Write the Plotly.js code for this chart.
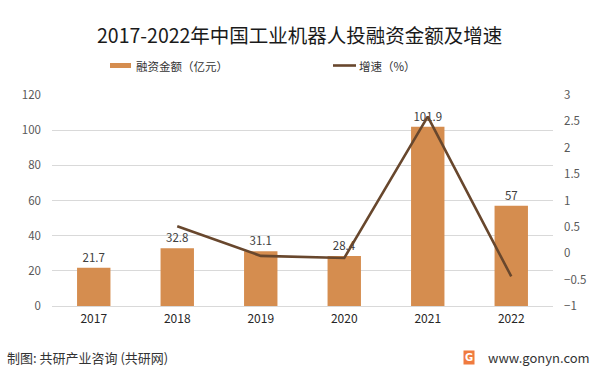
<!DOCTYPE html>
<html>
<head>
<meta charset="utf-8">
<script src="https://cdn.plot.ly/plotly-3.0.1.min.js"></script>
<style>
html,body{margin:0;padding:0;background:#fff;}
#chart{width:597px;height:373px;}
</style>
</head>
<body>
<div id="chart"></div>
<script>
const years = ['2017','2018','2019','2020','2021','2022'];
const financing = [21.7, 32.8, 31.1, 28.4, 101.9, 57];
const growthYears = ['2018','2019','2020','2021','2022'];
const growth = [0.51, -0.05, -0.09, 2.59, -0.44];
const barName = '融资金额（亿元）';
const lineName = '增速（%）';
const titleText = '2017-2022年中国工业机器人投融资金额及增速';
const sourceText = '制图: 共研产业咨询 (共研网)';
const siteText = 'www.gonyn.com';

const barColor = '#D58D4F';
const lineColor = '#68472D';
const cjk = '"Noto Sans CJK SC", "Microsoft YaHei", sans-serif';

// plot area in pixels
const L = 52, R = 44, T = 95, B = 67, W = 597, H = 373;
const pw = W - L - R, ph = H - T - B;
const px = x => (x - L) / pw;
const py = y => (H - B - y) / ph;

const traces = [
  {
    type: 'bar', x: years, y: financing, name: barName,
    marker: {color: barColor},
    text: financing.map(v => String(v)), textposition: 'outside',
    textfont: {family: cjk, size: 11.5, color: '#404040'},
    cliponaxis: false, showlegend: false, hoverinfo: 'skip'
  },
  {
    type: 'scatter', mode: 'lines', x: growthYears, y: growth, name: lineName,
    yaxis: 'y2', line: {color: lineColor, width: 2.6},
    showlegend: false, hoverinfo: 'skip'
  }
];

const layout = {
  width: W, height: H,
  margin: {l: L, r: R, t: T, b: B, pad: 0},
  paper_bgcolor: '#fff', plot_bgcolor: '#fff',
  bargap: 0.6,
  font: {family: cjk, color: '#595959'},
  xaxis: {
    type: 'category', showgrid: false, zeroline: false,
    showline: false, ticks: '',
    tickfont: {family: cjk, size: 12, color: '#262626'},
    ticklabelstandoff: 4
  },
  yaxis: {
    range: [0, 120], dtick: 20, showgrid: true, gridcolor: '#D9D9D9', gridwidth: 1,
    zeroline: true, zerolinecolor: '#D9D9D9', showline: false, ticks: '',
    tickfont: {family: cjk, size: 11.5, color: '#595959'},
    ticklabelstandoff: 10
  },
  yaxis2: {
    overlaying: 'y', side: 'right', range: [-1, 3], dtick: 0.5,
    showgrid: false, zeroline: false, showline: false, ticks: '',
    tickfont: {family: cjk, size: 11.5, color: '#595959'},
    ticklabelstandoff: 10
  },
  shapes: [
    {type: 'rect', xref: 'paper', yref: 'paper',
     x0: px(110), x1: px(131), y0: py(68), y1: py(63),
     fillcolor: barColor, line: {width: 0}},
    {type: 'line', xref: 'paper', yref: 'paper',
     x0: px(333), x1: px(356), y0: py(65.5), y1: py(65.5),
     line: {color: lineColor, width: 2.6}}
  ],
  annotations: [
    {text: titleText, xref: 'paper', yref: 'paper', x: px(299), y: py(34),
     xanchor: 'center', yanchor: 'middle', showarrow: false,
     font: {family: cjk, size: 19.5, color: '#1a1a1a'}},
    {text: barName, xref: 'paper', yref: 'paper', x: px(134), y: py(66),
     xanchor: 'left', yanchor: 'middle', showarrow: false,
     font: {family: cjk, size: 11.5, color: '#333'}},
    {text: lineName, xref: 'paper', yref: 'paper', x: px(357), y: py(66),
     xanchor: 'left', yanchor: 'middle', showarrow: false,
     font: {family: cjk, size: 11.5, color: '#333'}},
    {text: sourceText, xref: 'paper', yref: 'paper', x: px(5), y: py(357),
     xanchor: 'left', yanchor: 'middle', showarrow: false,
     font: {family: cjk, size: 13, color: '#333'}},
    {text: siteText, xref: 'paper', yref: 'paper', x: px(592), y: py(357),
     xanchor: 'right', yanchor: 'middle', showarrow: false,
     font: {family: cjk, size: 13, color: '#333'}},
    {text: '<b>G</b>', xref: 'paper', yref: 'paper', x: px(469), y: py(357),
     xanchor: 'center', yanchor: 'middle', showarrow: false,
     bgcolor: '#F07B3F', font: {family: 'DejaVu Sans', size: 10, color: '#fff'},
     borderpad: 1}
  ]
};

Plotly.newPlot('chart', traces, layout, {staticPlot: true, displayModeBar: false});
</script>
</body>
</html>
